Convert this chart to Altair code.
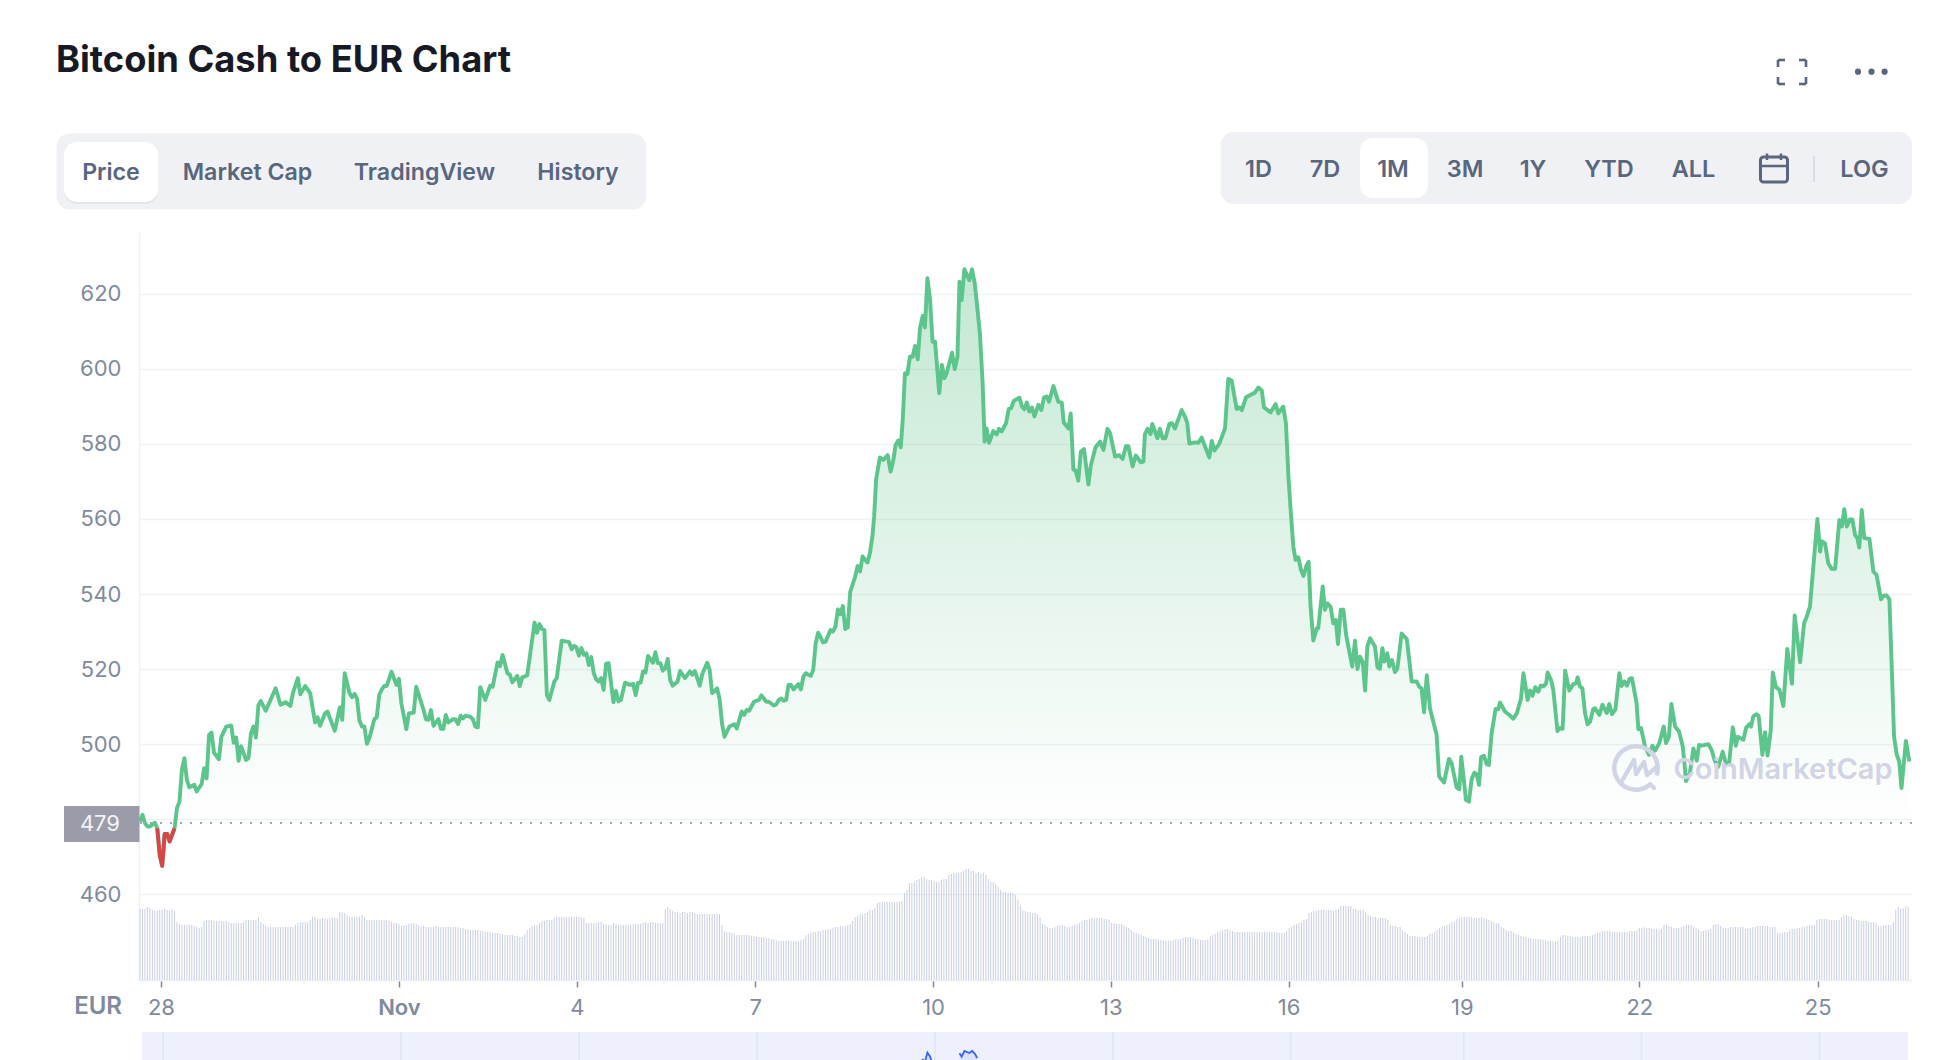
import altair as alt
import pandas as pd

# Price trace: (hour since start of the series, EUR price)
trace_a = [(0,479.4),(1,481.2),(2,479.0),(3,478.1),(4,478.1),(6,479.1),(7,477.6),(8,470.5),(9,467.6),(10,476.1),(11,476.1),(12,474.1),(14,477.6),(15,483.0),(16,484.7),(17,493.2),(18,496.3),(19,490.5),(20,488.5),(22,489.2),(23,487.4),(25,489.4),(26,493.6),(27,490.9),(28,502.5),(29,503.1),(30,497.8),(32,496.0),(33,502.0),(35,504.7),(37,505.0),(38,500.4),(39,501.8),(40,495.6),(41,499.5),(43,495.8),(44,496.3),(45,502.9),(46,504.7),(47,501.8),(48,510.3),(49,511.5),(51,508.9),(55,514.9),(57,510.5),(59,511.2),(61,510.2),(62,513.6),(64,517.6),(65,513.3),(67,515.5),(69,513.6),(71,505.8),(72,507.2),(73,504.9),(75,508.2),(76,508.7),(79,503.6),(81,509.8),(82,506.5),(83,518.9),(85,513.6),(86,512.5),(87,513.4),(88,512.2),(89,506.3),(90,504.7),(91,504.7),(92,500.1),(93,501.6),(95,506.6),(96,507.2),(97,513.1),(98,514.5),(99,515.5),(100,515.5),(102,519.3),(104,515.8),(105,517.4),(106,510.9),(108,504.0),(109,508.2),(111,508.4),(112,515.3),(115,509.1),(116,506.6),(117,506.5),(118,509.1),(119,504.9),(121,506.7),(122,504.1),(123,504.1),(124,507.8),(125,505.8),(127,506.7),(128,506.6),(129,505.4),(130,507.6),(131,506.9),(132,507.6),(134,507.3),(135,506.6),(136,504.7),(137,504.5),(138,515.2),(140,511.8),(142,515.6),(143,515.3),(145,521.8),(146,520.8),(147,523.8),(149,518.9),(150,518.5),(151,516.5),(153,518.2),(154,515.5),(155,517.8),(157,518.3),(160,532.4),(161,529.7),(162,532.0),(163,530.7),(164,530.4),(165,513.1),(166,511.8),(168,516.7),(169,517.6),(171,527.6),(174,527.2),(175,525.3),(176,526.2),(177,525.8),(178,523.6),(179,525.6),(180,523.8),(181,524.2),(182,521.1),(183,523.2),(184,518.9),(185,517.3),(186,516.7),(187,517.6),(188,514.5),(189,521.4),(190,521.6),(192,511.2),(193,514.2),(194,511.4),(195,511.8)]
trace_b = [(196.7,516.4),(198.7,515.8),(200,516.1),(201,513.1),(202,516.4),(203,516.4),(204,519.4),(205,519.1),(206,523.5),(208,521.7),(209,524.5),(210,521.6),(211,521.6),(212,519.6),(213,520.2),(214,522.7),(215,517.1),(216,515.6),(218,516.7),(219,519.5),(221,517.6),(223,519.4),(224,518.5),(225,519.5),(227,515.6),(228,518.7),(230,521.7),(231,519.8),(232,513.6),(234,514.9),(235,512.2),(236,505.6),(237,502.0),(239,504.7),(241,505.3),(242,504.2),(244,508.7),(245,507.8),(246,509.1),(247,508.9),(249,511.3),(251,511.8),(252,513.0),(254,511.3),(255,511.3),(257,510.3),(258,510.6),(259,511.8),(260,512.2),(261,511.6),(262,511.8),(263,515.8),(264,515.8),(265,514.6),(267,516.0),(268,514.6),(269,518.0),(270,518.9),(272,518.2),(273,519.8),(274,526.9),(275,529.7),(276,528.5),(277,527.1),(278,527.3),(280,530.4),(281,530.0),(282,531.3),(283,535.9),(284,534.6),(285,536.8),(286,530.7),(287,531.1),(288,540.6),(290,544.6),(291,547.5),(292,546.0),(293,550.0),(295,548.4),(296,550.9)]
trace_c = [(297,555.3),(297.7,560.6),(298.5,570.4),(300,576.4),(301.4,575.7),(303.2,577),(304.4,572.6),(305.5,575.7),(306.4,579.7),(307.5,580.9),(308.5,579.1),(309.3,586.4),(310.2,598.8),(311.2,598.6),(312.2,603.2),(313.3,603.2),(314.3,606.1),(315.4,602.5),(316.3,610.8),(317.4,614.1),(318.3,611),(319.3,624.1),(320.4,618.3),(321.4,607.2),(322.4,607.2),(324.1,593.5),(325.2,601),(326.2,597.5),(327.1,598.8),(329.3,604.3),(330.4,599.9),(331.5,603.2),(332.3,623.2),(333.2,618.3),(334.3,626.5),(336.3,623.6),(337.4,626.5),(338.5,622.8),(339.5,616.5),(340.6,609.4),(341.7,596.1),(342.5,580.6),(343.3,584.1),(344.3,580.3),(346,583.4),(347.4,582.5),(348.3,584),(349.4,583.3),(351.2,585.5),(352.3,589.3),(353.2,589.5),(354.4,591.5),(356.6,592.3),(357.7,589.9),(358.6,589.2),(359.6,591),(360.6,588.6),(361.7,589.7),(362.7,587.3),(364.3,590.4),(365.5,589),(366.6,592.4),(367.7,592.6),(368.6,591.2),(370.4,595.4),(372.4,591.2),(373.8,591),(374.6,585.7),(376.5,584.1),(377.4,588.1),(378.5,573.2),(379.4,572.9),(380.5,570.2),(381.5,577.9),(382.8,578.6),(384.6,569.2),(385.6,574.4),(387.5,579.1)]
trace_d = [(389.3,580.6),(390.7,578.4),(392.3,584),(393.4,582.8),(395.4,576.6),(397,577),(398.5,576),(399.8,579.4),(400.8,579.4),(402.5,574),(403.8,576.9),(405.8,575.1),(406.9,575.3),(407.5,582.6),(408.6,584),(409.8,582.6),(410.5,585.3),(412.6,581.5),(413.6,584),(414.7,581.5),(415.8,581.5),(417.4,585.3),(418.5,585.5),(419.7,584.1),(422.4,589),(423.8,587.2),(424.7,585.5),(425.5,580.1),(427.8,580.4),(429.2,580.3),(430.5,581.7),(433.6,576.4),(434.6,580.8),(435.7,578.2),(437.7,580.1),(439,582.4),(440,584.1),(441.3,597.3),(442.7,596.8),(444.7,589.3),(445.8,589.7),(446.8,589),(448.5,592.4),(452.2,593.7),(453.5,595),(454.9,594.2),(455.8,589.7),(458.5,588.4),(460.5,590.6),(461.6,588.1),(463.6,589.9),(464.7,585.5),(465.7,571.3),(466.6,562.4),(467.7,552.6),(468.6,549.1),(469.7,549.8),(470.8,546.4),(471.8,544.8),(473.1,547.7),(473.9,548.6),(474.7,536.6),(475.8,527.6),(477.2,530.9),(477.8,530.9),(479.6,542),(480.5,535.8),(481.5,537.5),(482.8,536.6),(483.9,532.2),(484.9,533.1),(485.8,526.7),(486.9,535.8),(488,535.8),(489,529.5),(490,526),(491.6,520.7),(492.7,527.6),(493.7,520),(494.7,523.3),(495.8,522),(496.8,514.3),(497.7,526),(498.8,528.2),(500.8,526),(501.8,520.5),(502.8,520.1),(503.8,525.6),(504.6,522),(505.8,524.2),(506.6,520.7),(507.7,522.4),(508.9,519.2),(509.9,520.2),(511.6,529.5),(513.7,528),(515.7,516.7),(517.7,516.7),(518.8,515.3),(519.7,514.9),(520.7,508.5),(521.8,518.4),(523.1,509.6),(524.1,506.9),(525.8,502.5),(526.8,491.4),(528.8,489.8),(530.8,496.1),(531.9,494.9),(533.9,488.5),(535,488),(535.8,496.7),(537.7,485.2),(538.9,484.7),(540,490.7),(541.1,492.4),(542,492.1),(543,489.2),(543.8,496.5),(545,496.9),(546.1,494.7),(547,494.5),(548.1,502.9),(549.7,509.4),(550.8,509.3)]
trace_e = [(551.5,511.1),(553.5,508.7),(554.9,508),(556.9,506.8),(558.3,508.2),(560,512.1),(561,518.9),(562.7,511.8),(563.7,514.3),(564.7,512.9),(565.8,515.2),(567,514),(568,515.6),(569.1,515.4),(570.2,516.2),(570.8,519.1),(572.2,517.1),(573.1,514.5),(573.8,510),(574.8,503.5),(575.8,504.3),(576.9,504.1),(577.9,519.6),(579.6,514.3),(581.2,516),(582.3,516.2),(583,517.8),(583.9,515.4),(584.9,514.9),(586,508.2),(587,505.3),(588,506),(589.3,509.4),(590,509.6),(591.8,507.8),(593,510.5),(594.8,508.3),(595.8,510.7),(596.9,508),(598.3,509.3),(599.9,518.9),(600.8,515.5),(601.9,516.7),(603,515.6),(604,517.4),(605,517.6),(606.9,510.9),(607.6,504),(608.7,504.3),(610.3,499.4),(611.9,497.2),(613.3,499.6),(614.4,498.3),(616.1,500.3),(617.9,504.7),(618.8,500.3),(620,502),(621,510.7),(622.5,504.7),(624.1,503.4),(625.6,499.4),(626.3,494.9),(626.9,490.2),(628.5,492.3),(629.9,498.9),(631.3,495.6),(632.2,499.8),(633.3,499.6),(636,500),(637.3,498.5),(638.7,495.4),(640,494),(641.8,498),(643.1,494.9),(644.4,494.9),(645.9,504.5),(647.1,499.6),(647.9,502),(650.2,501.2),(651.3,504.4),(652.6,505.4),(653.3,504.7),(654.2,507.4),(655.6,508),(656.4,507.5),(657.9,497.2),(659,503.2),(660,497),(661.3,503.8),(662.1,519.1),(663.4,515.2),(664.8,514.5),(666.4,510.2),(668,525.4),(669.9,516.1),(671,534.3),(673.2,521.8),(674.8,532.2),(675.9,534),(677.2,536.7),(680.2,560),(681.3,551.3),(681.9,554.1),(683.3,553.5),(684.6,548.2),(686,546.7),(687.4,546.7),(689.1,559.7),(690.1,558),(691.1,562.6),(692.1,558),(693.4,559.9),(694.4,559.9),(695.5,555.7),(696.4,554.9),(697.2,552.4),(698.2,562.4),(699.2,554.9),(701.3,554.7),(702.9,546),(704.2,545.1),(706,538.6),(707.2,539.6),(708.3,539.6),(709.4,538.6),(710.3,521.6),(711.3,502),(712.4,497.2),(713.4,495.4),(714.3,488.3),(716.1,500.9),(717.5,495.4)]

# Hourly volume (arbitrary units), one row per day
volume = [
 71,71,71,73,72,70,69,69,70,70,71,70,70,71,69,58,56,55,55,55,55,55,54,53,
 52,53,59,60,60,60,59,59,59,59,59,59,58,57,57,57,57,57,58,60,60,60,60,60,
 63,58,56,54,53,53,53,53,53,53,53,53,53,53,53,55,57,58,58,58,58,60,63,63,
 61,61,62,62,61,62,62,62,62,68,68,67,65,63,63,63,63,63,65,63,60,60,60,60,
 60,60,60,60,60,59,58,57,57,56,54,55,55,56,57,57,56,55,54,54,53,53,53,53,
 54,53,53,53,53,53,53,53,53,53,52,52,51,51,50,50,50,50,49,49,48,48,48,47,
 47,47,46,46,45,45,45,45,44,44,43,43,46,50,52,54,55,55,57,59,59,60,60,60,
 62,63,63,63,63,63,63,63,63,63,63,63,62,57,57,57,57,57,58,58,56,56,55,55,
 57,56,55,55,55,55,55,55,56,56,56,56,57,58,57,58,58,57,57,57,57,71,73,71,
 69,68,68,67,68,68,67,68,68,67,66,66,66,66,66,66,66,66,66,66,55,49,48,48,
 47,46,45,45,45,45,45,45,44,44,43,43,43,43,42,42,41,41,40,39,39,39,39,39,
 39,39,39,39,40,41,45,46,47,48,48,49,49,50,50,51,51,52,53,53,54,54,54,55,
 56,59,63,64,66,66,67,68,70,70,72,77,78,78,78,78,78,78,78,78,78,79,87,90,
 97,97,98,100,101,103,103,101,100,100,99,98,98,100,101,101,105,106,107,107,107,108,109,111,
 111,109,109,107,108,106,107,105,101,98,98,96,93,90,88,88,87,87,87,85,80,75,70,69,
 68,68,67,67,66,63,56,55,53,52,52,53,54,55,55,54,53,53,54,55,56,57,59,60,
 60,61,62,62,62,62,62,61,61,60,57,57,56,56,56,55,53,52,50,48,47,46,45,44,
 43,42,41,41,41,40,40,39,39,39,39,40,41,41,41,42,43,43,43,42,41,41,40,40,
 40,41,44,45,46,48,49,50,51,51,50,49,48,48,48,48,48,48,48,48,48,48,48,48,
 48,48,48,48,48,48,47,47,47,49,52,53,55,56,57,58,60,61,67,68,69,69,70,70,
 70,70,70,70,69,70,71,74,74,74,74,74,71,71,70,70,70,68,65,64,63,63,62,62,
 62,62,60,55,54,54,53,53,50,48,46,44,44,44,43,43,43,43,44,46,47,48,50,52,
 53,54,55,56,58,59,61,62,63,63,63,63,63,62,62,62,63,62,61,60,59,58,57,57,
 53,52,50,49,49,48,46,45,44,43,43,42,42,41,41,41,41,40,40,39,39,39,38,39,
 43,45,45,44,44,43,43,43,43,44,44,44,44,45,46,47,48,49,49,49,49,48,48,48,
 48,48,48,48,49,49,49,50,52,52,53,52,52,51,51,51,50,51,55,55,54,53,52,52,
 52,53,54,55,55,55,53,52,51,49,49,50,50,51,55,56,56,54,52,52,52,53,53,53,
 53,53,53,51,52,52,53,53,54,54,54,54,54,53,53,53,47,47,47,48,48,50,51,51,
 52,52,53,53,54,55,55,55,60,61,61,61,61,60,60,60,60,60,63,65,65,64,63,61,
 60,60,59,59,59,58,58,58,57,54,54,54,55,55,55,58,70,73,71,72,74,73,
]

price_ticks = [460, 480, 500, 520, 540, 560, 580, 600, 620]
baseline = 479
tick_hours = [8.5, 105, 177.2, 249.5, 321.6, 393.7, 465.8, 536, 608, 680.3]
tick_labels = ["28", "Nov", "4", "7", "10", "13", "16", "19", "22", "25"]
tabs = [("Market Cap", 247.5), ("TradingView", 424.5), ("History", 578)]
ranges = [("1D", 1258.5), ("7D", 1325), ("1M", 1393), ("3M", 1465), ("1Y", 1533),
          ("YTD", 1609), ("ALL", 1693.5), ("LOG", 1864.5)]

pts = trace_a + trace_b + trace_c + trace_d + trace_e
df = pd.DataFrame({"hour": [p[0] for p in pts], "price": [p[1] for p in pts]})
df["floor"] = df["price"].clip(lower=baseline)
vol = pd.DataFrame({"hour": list(range(len(volume))), "volume": volume})
one = pd.DataFrame({"a": [0]})

L, T, W, H = 139, 232, 1773, 748
SLATE = "#58667e"
GREY = "#808a9d"
GRID = "#eff2f5"
FONT = "Inter"

label_expr = "".join(f"datum.value=={h}?'{t}':" for h, t in zip(tick_hours, tick_labels)) + "''"
x_axis = alt.Axis(values=tick_hours, labelExpr=label_expr, title=None, grid=False,
                  domainColor=GRID, domainWidth=2, tickColor=GREY, tickWidth=1.5, tickSize=7,
                  labelFont=FONT, labelFontSize=22, labelColor=GREY, labelPadding=20,
                  labelBaseline="middle", labelFlush=False, labelOverlap=False,
                  labelFontWeight={"condition": {"test": "datum.value==105", "value": 600}, "value": 400})
xs = alt.Scale(domain=[-0.4055, 718.57], nice=False, zero=False, padding=0)
X = alt.X("hour:Q", scale=xs, axis=x_axis)

ys = alt.Scale(domain=[437.2, 636.43], nice=False, zero=False)
y_axis = alt.Axis(values=price_ticks, title=None, grid=True, gridColor=GRID, gridWidth=1.5,
                  domainColor=GRID, domainWidth=1.5, ticks=False, labelFont=FONT, labelFontSize=22,
                  labelColor=GREY, labelPadding=18, labelOffset=0,
                  labelExpr=f"datum.value=={480}?'':datum.label")
Y = alt.Y("price:Q", scale=ys, axis=None)


def rect(x0, y0, x1, y1, fill, r=0, **kw):
    return alt.Chart(one).mark_rect(color=fill, cornerRadius=r, **kw).encode(
        x=alt.value(x0 - L), x2=alt.value(x1 - L), y=alt.value(y0 - T), y2=alt.value(y1 - T))


def seg(x0, y0, x1, y1, color=SLATE, w=2.5, **kw):
    return alt.Chart(one).mark_rule(color=color, strokeWidth=w, **kw).encode(
        x=alt.value(x0 - L), x2=alt.value(x1 - L), y=alt.value(y0 - T), y2=alt.value(y1 - T))


def text(s, x, y, size=21, weight=600, color=SLATE, align="center"):
    return alt.Chart(one).mark_text(font=FONT, fontSize=size, fontWeight=weight, color=color,
                                    align=align, baseline="middle").encode(
        x=alt.value(x - L), y=alt.value(y - T), text=alt.value(s))


layers = []

# volume
layers.append(alt.Chart(vol).mark_bar(size=0.95, color="#c6cde0").encode(
    x=X, y=alt.Y("volume:Q", scale=alt.Scale(domain=[0, H], nice=False), axis=None)))

# area
layers.append(alt.Chart(df).mark_area(
    color=alt.Gradient(gradient="linear", x1=0, x2=0, y1=0, y2=1, stops=[
        alt.GradientStop(offset=0, color="rgba(88,190,130,0.36)"),
        alt.GradientStop(offset=1, color="rgba(88,190,130,0.0)")])).encode(
    x=X, y=alt.Y("floor:Q", scale=ys, axis=y_axis), y2=alt.Y2(datum=baseline)))

# dotted baseline
layers.append(alt.Chart(one).mark_rule(color=GREY, strokeWidth=1.6, strokeDash=[2, 8]).encode(
    x=alt.value(1), x2=alt.value(W), y=alt.Y(datum=baseline, scale=ys, axis=None)))

# price line
layers.append(alt.Chart(df).mark_line(color="#5bc58b", strokeWidth=3.9, strokeJoin="round").encode(x=X, y=Y))
layers.append(alt.Chart(df).transform_filter("datum.hour>=7 && datum.hour<=14").mark_line(
    color="#d84545", strokeWidth=3.9, strokeJoin="round").encode(x=X, y=Y))

# current price box
layers.append(rect(64, 806, 139.5, 842, "#9a9da9"))
layers.append(text("479", 120, 824, 22, 400, "#f3f4f6", "right"))
layers.append(text("EUR", 122, 1007, 24, 600, GREY, "right"))

# watermark
WM = "#d0d4e5"
layers.append(alt.Chart(one).mark_arc(radius=24, radius2=19.5, theta=2.5, theta2=8.2, color=WM).encode(
    x=alt.value(1636 - L), y=alt.value(768 - T)))
for a, b, c, d in [(1622, 781, 1634, 760), (1634, 760, 1636, 774), (1636, 774, 1644, 762),
                   (1644, 762, 1647, 775), (1647, 775, 1658, 766), (1650, 784, 1654, 788)]:
    layers.append(seg(a, b, c, d, WM, 4.2, strokeCap="round"))
layers.append(text("CoinMarketCap", 1783, 770, 29, 600, WM))

# title
layers.append(text("Bitcoin Cash to EUR Chart", 56, 61, 36.3, 700, "#171924", "left"))

# left tabs
layers.append(rect(56.5, 133.5, 646, 209.5, "#eff1f5", 13))
layers.append(rect(64, 143, 158, 204, "#e3e5eb", 13))
layers.append(rect(64, 142, 158, 202, "#ffffff", 13))
layers.append(text("Price", 111, 173, 23.2))
for s, x in tabs:
    layers.append(text(s, x, 173, 23.2))

# right range selector
layers.append(rect(1220.5, 132, 1912, 204, "#eff1f5", 13))
layers.append(rect(1360, 138, 1428, 198, "#ffffff", 13))
for s, x in ranges:
    layers.append(text(s, x, 170, 23.5))
layers.append(seg(1814, 156, 1814, 182, "#cfd6e4", 1.5))

# calendar icon
layers.append(rect(1760.5, 157, 1787.5, 182, "#ffffff", 3, fillOpacity=0, stroke=SLATE, strokeWidth=3))
layers.append(seg(1760, 166, 1788, 166, SLATE, 2.5))
layers.append(seg(1767, 153.5, 1767, 160, SLATE, 2.5))
layers.append(seg(1781, 153.5, 1781, 160, SLATE, 2.5))

# fullscreen icon
for a, b, c, d in [(1778, 60, 1785, 60), (1778, 60, 1778, 67), (1799, 60, 1806, 60), (1806, 60, 1806, 67),
                   (1778, 84, 1785, 84), (1778, 77, 1778, 84), (1799, 84, 1806, 84), (1806, 77, 1806, 84)]:
    layers.append(seg(a, b, c, d, SLATE, 2.6))

# overflow dots
for cx in [1858, 1871.5, 1884.6]:
    layers.append(alt.Chart(one).mark_point(filled=True, size=38, color=SLATE, opacity=1).encode(
        x=alt.value(cx - L), y=alt.value(71.7 - T)))

# navigator strip
layers.append(rect(142, 1032, 1908, 1060, "#eef1fd"))
for h in tick_hours:
    px = 140 + 2.466 * h + 2
    layers.append(seg(px, 1032, px, 1060, "#dfe5f3", 1.6))
mini = alt.Scale(domain=[480, 626.5], range=[1051 + 102.5 - T, 1051 - T], nice=False, zero=False)
for lo, hi in [(316.3, 321.4), (332.3, 339.5)]:
    sub = alt.Chart(df).transform_filter(f"datum.hour>={lo} && datum.hour<={hi}")
    layers.append(sub.mark_area(color="#dbe3fb").encode(
        x=X, y=alt.Y("price:Q", scale=mini, axis=None), y2=alt.Y2(datum=480)))
    layers.append(sub.mark_line(color="#3861fb", strokeWidth=1.8).encode(
        x=X, y=alt.Y("price:Q", scale=mini, axis=None)))

chart = alt.layer(*layers).resolve_scale(y="independent").properties(
    width=W, height=H,
    padding={"left": L - 8, "top": T - 8, "right": 28, "bottom": 80},
    autosize=alt.AutoSizeParams(type="none", contains="content"),
    background="#ffffff",
).configure_view(stroke=None)

chart.save("out.html", embed_options={"renderer": "svg", "actions": False})
